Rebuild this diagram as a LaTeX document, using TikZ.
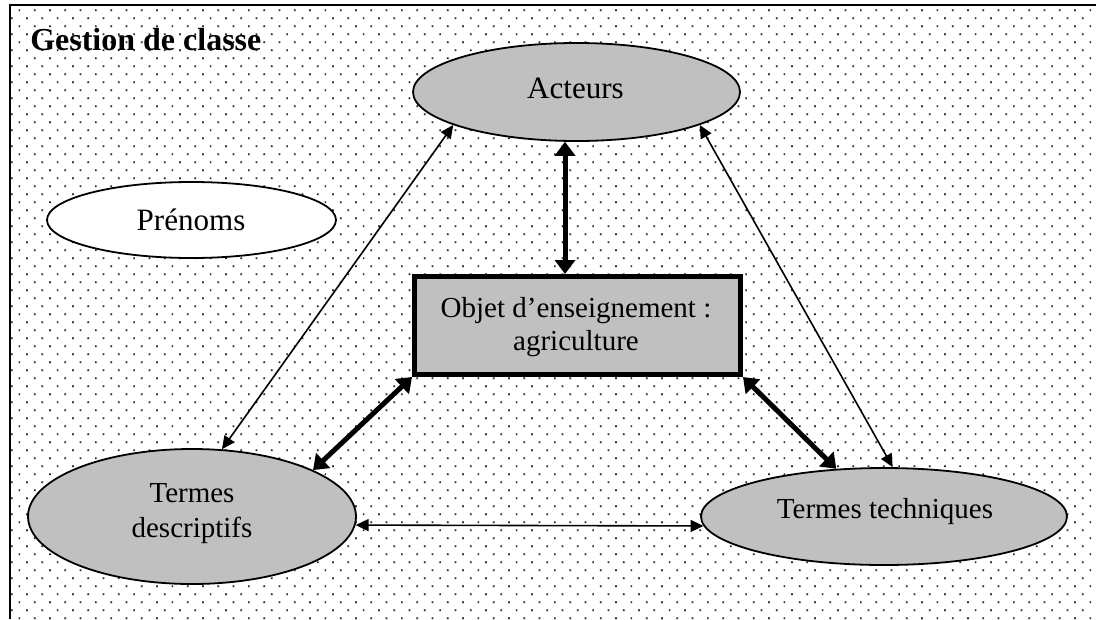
\documentclass[tikz,border=0pt]{standalone}
\usepackage{fontspec}
\setmainfont{Liberation Serif}
\usetikzlibrary{arrows.meta,shapes.geometric}
\definecolor{shade}{HTML}{C0C0C0}
\definecolor{dotc}{HTML}{202020}
\tikzset{
  oval/.style={ellipse,draw=black,line width=1.35pt,fill=shade,inner sep=0pt},
  whiteoval/.style={ellipse,draw=black,line width=1.35pt,fill=white,inner sep=0pt},
  objbox/.style={rectangle,draw=black,line width=3.75pt,fill=shade,inner sep=0pt},
  lbl/.style={inner sep=0pt,font=\fontsize{21.75}{26.25}\selectfont,align=center},
  biglbl/.style={inner sep=0pt,font=\fontsize{23.3}{27}\selectfont},
  thinarr/.style={line width=1.2pt,{Triangle[length=9.75pt,width=9pt]}-{Triangle[length=9.75pt,width=9pt]}},
  thickarr/.style={line width=3.75pt,{Triangle[length=10.5pt,width=15pt]}-{Triangle[length=10.5pt,width=15pt]}}
}
\begin{document}
\begin{tikzpicture}[x=0.75pt,y=-0.75pt]
\useasboundingbox (0,0) rectangle (1096,619);
\fill[white] (0,0) rectangle (1096,619);
% dotted background
\begin{scope}
\clip (11,6) rectangle (1096,619);
\foreach \r in {0,...,76}{
  \pgfmathsetmacro\xo{3.2+7.65*mod(\r,2)}
  \pgfmathsetmacro\yo{9.3+8*\r}
  \fill[dotc] foreach \c in {0,...,71} {(\xo+15.3*\c,\yo) rectangle ++(1.7,1.7)};
}
\end{scope}
% frame
\draw[line width=1.5pt] (10,619) -- (10,4.5) -- (1096,4.5);
% title
\node[anchor=base west,inner sep=0pt,font=\fontsize{24}{28}\selectfont\bfseries] (title) at (30,50) {Gestion de classe};
% shapes
\node[oval,minimum width=245.25pt,minimum height=73.5pt] (act) at (576.5,92) {};
\node[whiteoval,minimum width=216.75pt,minimum height=57pt] (pre) at (191.5,220) {};
\node[objbox,minimum width=244.5pt,minimum height=73.5pt] (box) at (577.5,325.5) {};
\node[oval,minimum width=246pt,minimum height=101.25pt] (desc) at (192,516.5) {};
\node[oval,minimum width=274.5pt,minimum height=72.75pt] (tech) at (884,516.5) {};
% labels
\node[biglbl,anchor=base] (actt) at (575.5,98) {Acteurs};
\node[biglbl,anchor=base] (pret) at (191,230) {Prénoms};
\node[lbl,font=\fontsize{21.75}{24.75}\selectfont] (boxt) at (576,327) {Objet d’enseignement :\\agriculture};
\node[lbl] (desct) at (192,514) {Termes\\descriptifs};
\node[lbl,anchor=base] (techt) at (885,518) {Termes techniques};
% connectors
\draw[thickarr] (act.257.9) -- (act.257.9 |- box.north);
\draw[thinarr] (act.195) -- (desc.66.7);
\draw[thinarr] (act.-15) -- (tech.80.6);
\draw[thickarr] (box.south west) -- (desc.21.5);
\draw[thickarr] (box.south east) -- (tech.135.6);
\draw[thinarr] (desc.-3.35) -- (tech.183);
\end{tikzpicture}
\end{document}
